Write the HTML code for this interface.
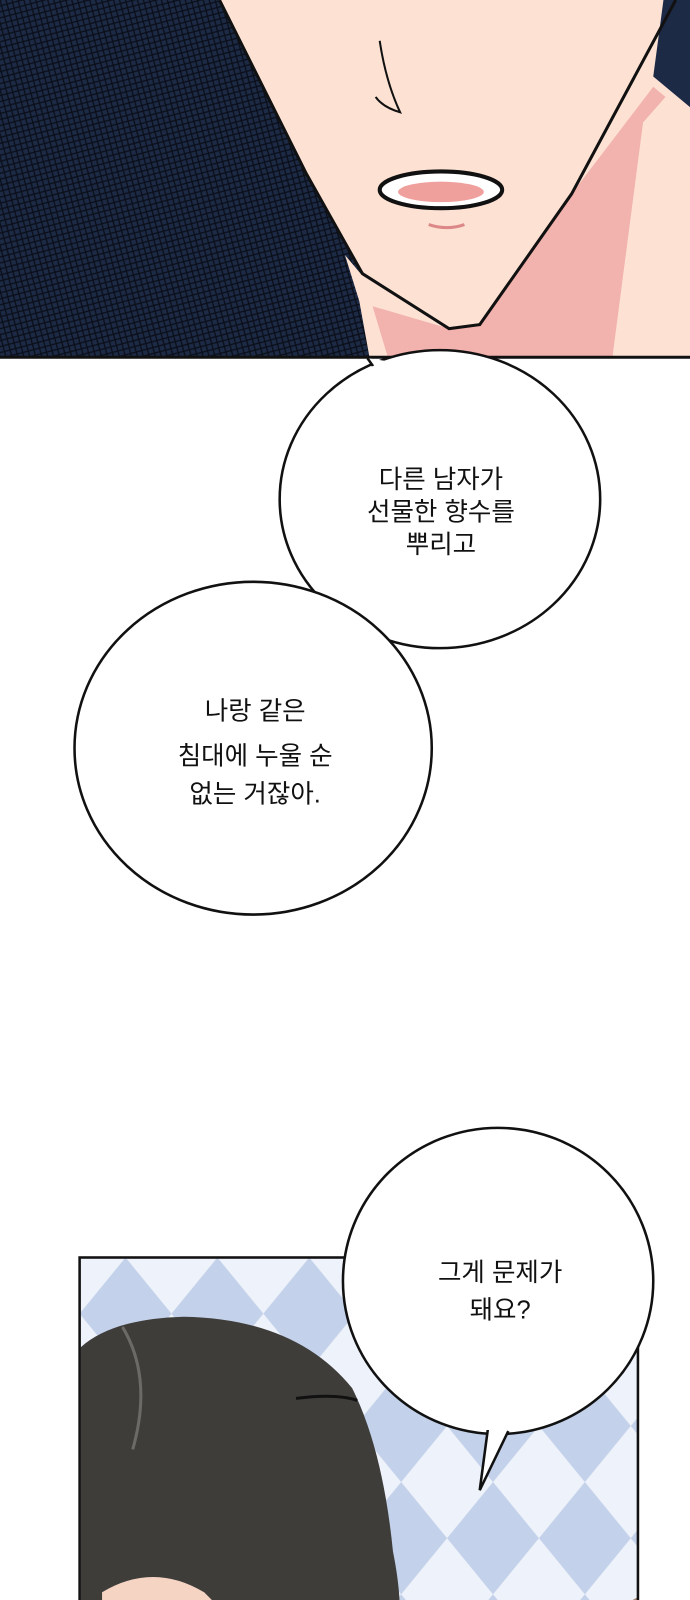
<!DOCTYPE html>
<html><head><meta charset="utf-8"><style>
html,body{margin:0;padding:0;background:#fff;width:690px;height:1600px;overflow:hidden}
svg{display:block}
text{font-family:"Liberation Sans","Noto Sans CJK KR","NanumGothic",sans-serif;font-size:25px;fill:#111;text-anchor:middle}
</style></head><body>
<svg width="690" height="1600" viewBox="0 0 690 1600" xmlns="http://www.w3.org/2000/svg">
<defs>
<pattern id="mesh" width="8" height="8" patternUnits="userSpaceOnUse" patternTransform="rotate(30)">
<rect width="8" height="8" fill="#1d2a45"/>
<path d="M0 0L8 8M8 0L0 8" stroke="#0a0f1a" stroke-width="1.3"/>
</pattern>
<pattern id="diam" width="90" height="110" patternUnits="userSpaceOnUse" x="78" y="1232">
<rect width="90" height="110" fill="#eef2fa"/>
<polygon points="45,0 90,55 45,110 0,55" fill="#c3d1ea"/>
</pattern>
<clipPath id="pc"><rect x="79" y="1233" width="546" height="367"/></clipPath>
</defs>
<g transform="scale(1.0207)">
<!-- top panel -->
<rect x="0" y="0" width="690" height="350" fill="url(#mesh)"/>
<!-- face -->
<polygon points="215,0 662,0 560,190 470,318 440,322 355,270 300,170" fill="#fde2d4"/>
<!-- neck -->
<polygon points="338,250 355,270 440,322 470,318 560,190 662,0 676,0 676,350 362,350 352,295" fill="#fde2d4"/>
<polygon points="365,300 440,322 470,318 560,190 640,85 652,95 630,120 600,350 380,350" fill="#f2b2ad"/>
<polygon points="650,0 676,0 676,105 640,75" fill="#1d2a45"/>
<polyline points="215,0 300,170 355,268 440,322 470,318 560,190 662,0" fill="none" stroke="#111" stroke-width="3"/>
<path d="M372,40 Q378,80 392,110 Q375,105 368,95" fill="none" stroke="#111" stroke-width="2"/>
<ellipse cx="432" cy="186" rx="60" ry="18" fill="#fff" stroke="#111" stroke-width="4"/>
<ellipse cx="432" cy="188" rx="42" ry="10" fill="#f0a09c"/>
<path d="M420 220 Q438 226 455 220" stroke="#d88" stroke-width="3" fill="none"/>
<line x1="0" y1="350" x2="676" y2="350" stroke="#111" stroke-width="3"/>
<!-- bubble 1 -->
<ellipse cx="431" cy="489" rx="157" ry="146" fill="#fff" stroke="#111" stroke-width="2.5"/>
<path d="M360,351 L375,372 L395,356" fill="#fff" stroke="#111" stroke-width="2.5"/>
<ellipse cx="431" cy="489" rx="155" ry="144" fill="#fff"/>
<!-- bubble 2 -->
<ellipse cx="248" cy="733" rx="175" ry="163" fill="#fff" stroke="#111" stroke-width="2.5"/>
<text x="432" y="478" font-size="26">다른 남자가</text>
<text x="432" y="510" font-size="26">선물한 향수를</text>
<text x="432" y="542" font-size="26">뿌리고</text>
<text x="250" y="705" font-size="26">나랑 같은</text>
<text x="250" y="749" font-size="26">침대에 누울 순</text>
<text x="250" y="786" font-size="26">없는 거잖아.</text>
<!-- lower panel -->
<g clip-path="url(#pc)">
<rect x="78" y="1232" width="547" height="368" fill="url(#diam)"/>
<path d="M79,1600 L79,1320 Q110,1292 180,1290 Q290,1292 345,1360 Q375,1420 385,1520 Q395,1570 390,1600 Z" fill="#3e3d3a"/>
<path d="M100,1560 Q150,1530 200,1560 L240,1600 L100,1600 Z" fill="#f6d4c4"/>
<path d="M120,1300 Q150,1350 130,1420" stroke="#6b6a66" stroke-width="3" fill="none"/>
<path d="M290,1370 Q330,1365 350,1372" stroke="#111" stroke-width="3" fill="none"/>
<path d="M600,1600 Q610,1570 625,1565 L625,1600 Z" fill="#a08470"/>
</g>
<rect x="78" y="1232" width="547" height="380" fill="none" stroke="#111" stroke-width="2.5"/>
<!-- bubble 3 -->
<ellipse cx="488" cy="1255" rx="152" ry="150" fill="#fff" stroke="#111" stroke-width="2.5"/>
<path d="M478,1400 L470,1460 L498,1402" fill="#fff" stroke="#111" stroke-width="2.5"/>
<rect x="470" y="1394" width="30" height="7" fill="#fff"/>
<text x="490" y="1255" font-size="26">그게 문제가</text>
<text x="490" y="1292" font-size="26">돼요?</text>
</g>
</svg>
</body></html>
